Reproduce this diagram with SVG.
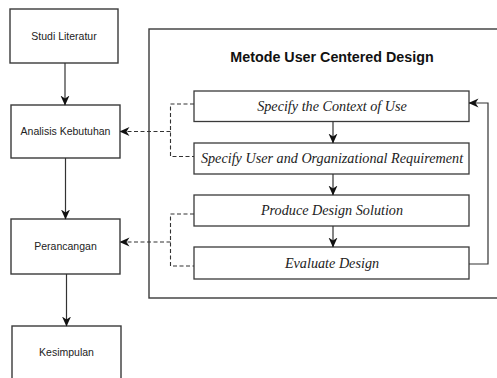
<svg xmlns="http://www.w3.org/2000/svg" width="497" height="378" viewBox="0 0 497 378">
<defs>
<style>
.box{fill:#fff;stroke:#3a3a3a;stroke-width:1.4}
.sbox{fill:#fff;stroke:#3a3a3a;stroke-width:1.3}
.lt{font-family:"Liberation Sans",Arial,sans-serif;font-size:10.5px;fill:#222;text-anchor:middle}
.st{font-family:"Liberation Serif","Times New Roman",serif;font-style:italic;font-size:14.2px;fill:#222;text-anchor:middle}
.title{font-family:"Liberation Sans",Arial,sans-serif;font-weight:bold;font-size:14.3px;fill:#111;text-anchor:middle}
.ln{fill:none;stroke:#333;stroke-width:1.2}
.dash{fill:none;stroke:#333;stroke-width:1.1;stroke-dasharray:4 2.5}
</style>
<marker id="ah" viewBox="0 0 10 10" refX="9.5" refY="5" markerWidth="10" markerHeight="10" markerUnits="userSpaceOnUse" orient="auto">
<path d="M0,0.5 L10,5 L0,9.5 L3,5 z" fill="#111"/>
</marker>
</defs>
<rect width="497" height="378" fill="#fff"/>
<g id="metode-group">
<rect x="149" y="29" width="360" height="269" fill="#fff" stroke="#3a3a3a" stroke-width="1.4"/>
<text class="title" x="332" y="62">Metode User Centered Design</text>
</g>
<g id="studi-literatur">
<rect class="box" x="10" y="9" width="108" height="54"/>
<text class="lt" x="64" y="40">Studi Literatur</text>
</g>
<g id="analisis-kebutuhan">
<rect class="box" x="11" y="105" width="109" height="53"/>
<text class="lt" x="65.5" y="135">Analisis Kebutuhan</text>
</g>
<g id="perancangan">
<rect class="box" x="11" y="219" width="109" height="55"/>
<text class="lt" x="65.5" y="250">Perancangan</text>
</g>
<g id="kesimpulan">
<rect class="box" x="12" y="326" width="109" height="60"/>
<text class="lt" x="66.5" y="356">Kesimpulan</text>
</g>
<g id="specify-context">
<rect class="sbox" x="194" y="91" width="275" height="30.5"/>
<text class="st" x="332" y="111">Specify the Context of Use</text>
</g>
<g id="specify-requirement">
<rect class="sbox" x="194" y="143" width="275" height="31"/>
<text class="st" x="332" y="163">Specify User and Organizational Requirement</text>
</g>
<g id="produce-design">
<rect class="sbox" x="194" y="195" width="275" height="31"/>
<text class="st" x="332" y="215">Produce Design Solution</text>
</g>
<g id="evaluate-design">
<rect class="sbox" x="194" y="247" width="275" height="32"/>
<text class="st" x="332" y="268">Evaluate Design</text>
</g>
<g id="connectors">
<line class="ln" x1="65" y1="63" x2="65" y2="105" marker-end="url(#ah)"/>
<line class="ln" x1="65.5" y1="158" x2="65.5" y2="219" marker-end="url(#ah)"/>
<line class="ln" x1="66.5" y1="274" x2="66.5" y2="326" marker-end="url(#ah)"/>
<line class="ln" x1="333" y1="121.5" x2="333" y2="143" marker-end="url(#ah)"/>
<line class="ln" x1="333" y1="174" x2="333" y2="195" marker-end="url(#ah)"/>
<line class="ln" x1="333" y1="226" x2="333" y2="247" marker-end="url(#ah)"/>
<polyline class="ln" points="469,264 488,264 488,103 469,103" marker-end="url(#ah)"/>
<polyline class="dash" points="194,104 170.5,104 170.5,156.5 194,156.5"/>
<line class="dash" x1="170.5" y1="131.5" x2="120" y2="131.5" marker-end="url(#ah)"/>
<polyline class="dash" points="194,214 170.5,214 170.5,266 194,266"/>
<line class="dash" x1="170.5" y1="242" x2="120" y2="242" marker-end="url(#ah)"/>
</g>
</svg>
